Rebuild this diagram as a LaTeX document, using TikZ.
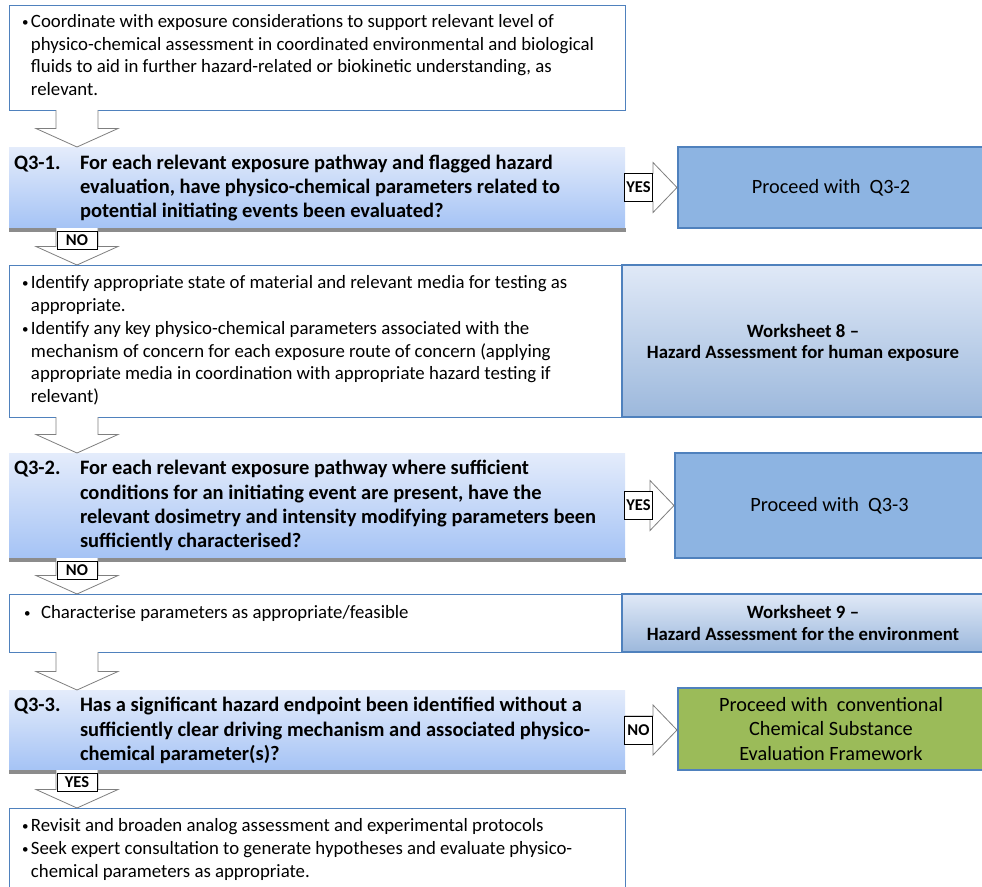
\documentclass[tikz,border=0pt]{standalone}
\usepackage{fontspec}
\setmainfont{Carlito}
\usetikzlibrary{calc}

\definecolor{edgeblue}{RGB}{79,129,189}
\definecolor{bandtop}{RGB}{228,236,251}
\definecolor{bandbot}{RGB}{165,195,245}
\definecolor{procfill}{RGB}{141,180,226}
\definecolor{wstop}{RGB}{224,233,247}
\definecolor{wsbot}{RGB}{156,184,220}
\definecolor{greenfill}{RGB}{155,187,89}
\definecolor{arrowgray}{RGB}{127,127,127}
\definecolor{shadowgray}{RGB}{140,140,140}

% small bullet with hanging indent
\newcommand{\bul}{\makebox[9pt][l]{\raisebox{1pt}{\fontsize{13}{13}\selectfont\textbullet}}}
\newcommand{\ind}{\hspace*{9pt}}

% hollow block arrow pointing down, from one box to the next
\newcommand{\hollowdown}[2]{%
  \path[fill=white] let \p1=([xshift=68pt]#1.south west), \p2=([xshift=68pt]#2.north west) in
    (\x1-21pt,\y1) -- (\x1-21pt,\y2+18.5pt) -- (\x1-41pt,\y2+18.5pt) -- (\x2,\y2)
    -- (\x1+41pt,\y2+18.5pt) -- (\x1+21pt,\y2+18.5pt) -- (\x1+21pt,\y1) -- cycle;
  \draw[arrowline] let \p1=([xshift=68pt]#1.south west), \p2=([xshift=68pt]#2.north west) in
    (\x1-21pt,\y1) -- (\x1-21pt,\y2+18.5pt) -- (\x1-41pt,\y2+18.5pt) -- (\x2,\y2)
    -- (\x1+41pt,\y2+18.5pt) -- (\x1+21pt,\y2+18.5pt) -- (\x1+21pt,\y1);}

% hollow block arrow pointing right, from a question band to its outcome box
\newcommand{\hollowright}[2]{%
  \filldraw[arrowline, fill=white] let \p1=(#1.east), \p2=(#2.west) in
    (\x1,\y1+14pt) -- (\x2-25pt,\y1+14pt) -- (\x2-25pt,\y1+25pt) -- (\x2-1pt,\y1)
    -- (\x2-25pt,\y1-25pt) -- (\x2-25pt,\y1-14pt) -- (\x1,\y1-14pt) -- cycle;}

\begin{document}
\begin{tikzpicture}[x=1pt,y=-1pt,
  every node/.style={inner sep=0pt, outer sep=0pt},
  box/.style={draw=edgeblue, line width=1pt, fill=white, anchor=north west},
  qband/.style={anchor=north west, top color=bandtop, bottom color=bandbot},
  procbox/.style={draw=edgeblue, line width=1.3pt, fill=procfill, anchor=north west},
  wsbox/.style={draw=edgeblue, line width=1.3pt, anchor=north west, top color=wstop, bottom color=wsbot},
  greenbox/.style={draw=edgeblue, line width=1.3pt, fill=greenfill, anchor=north west},
  arrowline/.style={draw=arrowgray, line width=0.8pt, line join=miter},
  bodytxt/.style={anchor=north west, align=left, font=\fontsize{18.8}{22.7}\selectfont},
  qtxt/.style={anchor=north west, align=left, font=\fontsize{20.5}{24.2}\selectfont\bfseries},
  outtxt/.style={align=center, font=\fontsize{20.3}{24.6}\selectfont},
  wstxt/.style={align=center, font=\fontsize{18.8}{21.5}\selectfont\bfseries},
  lbl/.style={draw=black, line width=0.7pt, fill=white, font=\fontsize{16.5}{18}\selectfont\bfseries},
]
\useasboundingbox (0,0) rectangle (982,886);

% ---------- boxes ----------
\node[box, minimum width=616, minimum height=105] (top) at (9,5) {};
\node[qband, minimum width=616, minimum height=81] (q1) at (9,147) {};
\fill[shadowgray] (q1.south west) rectangle ([xshift=1pt,yshift=-3.5pt]q1.south east);
\node[procbox, minimum width=306, minimum height=81] (p1) at (678,147) {};

\node[box, minimum width=613, minimum height=152] (b2) at (9,265) {};
\node[wsbox, minimum width=362, minimum height=152] (ws8) at (622,265) {};

\node[qband, minimum width=616, minimum height=105] (q2) at (9,453) {};
\fill[shadowgray] (q2.south west) rectangle ([xshift=1pt,yshift=-3.5pt]q2.south east);
\node[procbox, minimum width=309, minimum height=105] (p2) at (675,453) {};

\node[box, minimum width=613, minimum height=58] (b3) at (9,594) {};
\node[wsbox, minimum width=362, minimum height=58] (ws9) at (622,594) {};

\node[qband, minimum width=616, minimum height=80] (q3) at (9,690) {};
\fill[shadowgray] (q3.south west) rectangle ([xshift=1pt,yshift=-3.5pt]q3.south east);
\node[greenbox, minimum width=306, minimum height=82] (g3) at (678,688) {};

\node[box, minimum width=616, minimum height=90] (b4) at (9,808) {};

% ---------- texts ----------
\node[bodytxt] (t0) at (22,11.6) {\strut\bul Coordinate with exposure considerations to support relevant level of\\
  \ind physico-chemical assessment in coordinated environmental and biological\\
  \ind fluids to aid in further hazard-related or biokinetic understanding, as\\
  \ind relevant.};

\node[qtxt] (q1n) at (14,152.2) {\strut Q3-1.};
\node[qtxt] (q1t) at (80,152.2) {\strut For each relevant exposure pathway and flagged hazard\\
  evaluation, have physico-chemical parameters related to\\
  potential initiating events been evaluated?};
\node[outtxt] (p1t) at (p1.center) {Proceed with~~Q3-2};

\node[bodytxt] (t2) at (22,273.1) {\strut\bul Identify appropriate state of material and relevant media for testing as\\
  \ind appropriate.\\
  \bul Identify any key physico-chemical parameters associated with the\\
  \ind mechanism of concern for each exposure route of concern (applying\\
  \ind appropriate media in coordination with appropriate hazard testing if\\
  \ind relevant)};
\node[wstxt] (ws8t) at ([yshift=-2pt]ws8.center) {Worksheet 8 --\\ Hazard Assessment for human exposure};

\node[qtxt] (q2n) at (14,458) {\strut Q3-2.};
\node[qtxt] (q2t) at (80,458) {\strut For each relevant exposure pathway where sufficient\\
  conditions for an initiating event are present, have the\\
  relevant dosimetry and intensity modifying parameters been\\
  sufficiently characterised?};
\node[outtxt] (p2t) at (p2.center) {Proceed with~~Q3-3};

\node[bodytxt] (t3) at (24,603) {\strut\makebox[17pt][l]{\raisebox{1pt}{\fontsize{13}{13}\selectfont\textbullet}}Characterise parameters as appropriate/feasible};
\node[wstxt] (ws9t) at (ws9.center) {Worksheet 9 --\\ Hazard Assessment for the environment};

\node[qtxt] (q3n) at (14,695) {\strut Q3-3.};
\node[qtxt] (q3t) at (80,695) {\strut Has a significant hazard endpoint been identified without a\\
  sufficiently clear driving mechanism and associated physico-\\
  chemical parameter(s)?};
\node[outtxt] (g3t) at (g3.center) {Proceed with~~conventional\\ Chemical Substance\\ Evaluation Framework};

\node[bodytxt] (t4) at (22,816) {\strut\bul Revisit and broaden analog assessment and experimental protocols\\
  \bul Seek expert consultation to generate hypotheses and evaluate physico-\\
  \ind chemical parameters as appropriate.};

% ---------- block arrows ----------
\hollowdown{top}{q1}
\hollowdown{q1}{b2}
\hollowdown{b2}{q2}
\hollowdown{q2}{b3}
\hollowdown{b3}{q3}
\hollowdown{q3}{b4}

\hollowright{q1}{p1}
\hollowright{q2}{p2}
\hollowright{q3}{g3}

% ---------- arrow labels ----------
\node[lbl, minimum width=28, minimum height=28] (y1) at (638.5,187.5) {YES};
\node[lbl, minimum width=28, minimum height=28] (y2) at (638.5,505.5) {YES};
\node[lbl, minimum width=28, minimum height=28] (n3) at (638.5,730) {NO};
\node[lbl, minimum width=40, minimum height=18, anchor=north] (n1) at (77,231.5) {NO};
\node[lbl, minimum width=40, minimum height=18, anchor=north] (n2) at (77,561.5) {NO};
\node[lbl, minimum width=40, minimum height=18, anchor=north] (y3) at (77,773.5) {YES};
\end{tikzpicture}
\end{document}
